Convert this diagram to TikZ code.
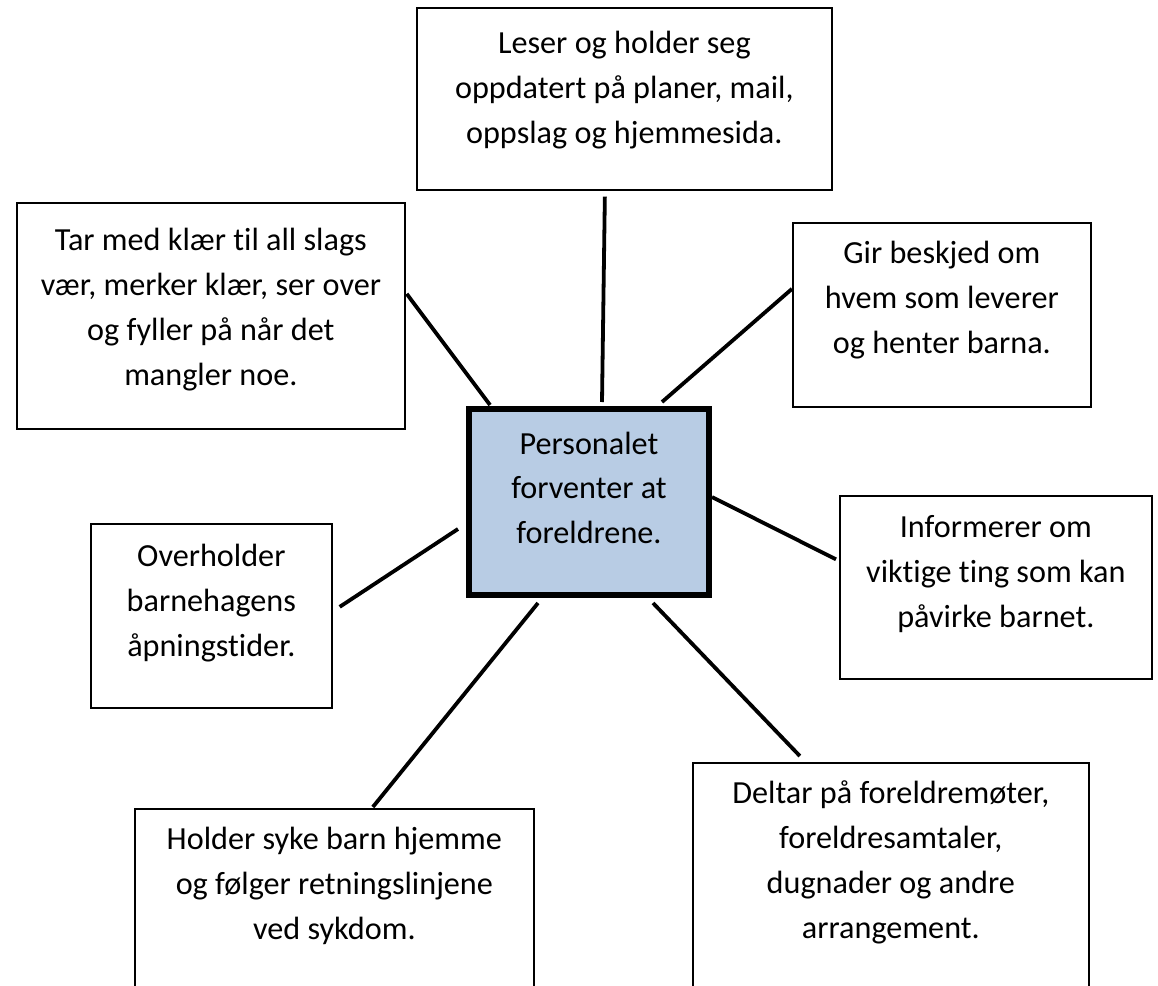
\documentclass[tikz,border=0pt]{standalone}
\usepackage{fontspec}
\setmainfont{Carlito}[Ligatures=NoCommon]
\usepackage{tikz}
\tikzset{>=latex}
\definecolor{centrefill}{HTML}{B8CCE4}
\tikzset{
    note/.style={draw=black, line width=1.7pt, anchor=north west, inner sep=0pt, align=flush center, font=\fontsize{32.2}{44.8}\selectfont},
    link/.style={line width=3.8pt},
}

\begin{document}
\begin{tikzpicture}[x=1pt, y=-1pt]
            \useasboundingbox (0, 0) rectangle (1158, 985);
            \clip (0, 0) rectangle (1158, 985);
            \node[note, line width=6pt, fill=centrefill, text width=240pt, text height=45pt, text depth=141pt] (centre) at (466, 406) {Personalet\\ forventer at\\ foreldrene.};
            \node[note, text width=415pt, text height=46pt, text depth=136pt] (plan) at (416, 7) {Leser og holder seg\\ oppdatert på planer, mail,\\ oppslag og hjemmesida.};
            \node[note, text width=388pt, text height=48pt, text depth=178pt] (klaer) at (16, 202) {Tar med klær til all slags\\ vær, merker klær, ser over\\ og fyller på når det\\ mangler noe.};
            \node[note, text width=298pt, text height=41pt, text depth=143pt] (beskjed) at (792, 222) {Gir beskjed om\\ hvem som leverer\\ og henter barna.};
            \node[note, text width=241pt, text height=43pt, text depth=141pt] (tider) at (90, 523) {Overholder\\ barnehagens\\ åpningstider.};
            \node[note, text width=312pt, text height=42pt, text depth=141pt] (info) at (839, 495) {Informerer om\\ viktige ting som kan\\ påvirke barnet.};
            \node[note, text width=399pt, text height=41pt, text depth=170pt] (syk) at (134, 808) {Holder syke barn hjemme\\ og følger retningslinjene\\ ved sykdom.};
            \node[note, text width=396pt, text height=41pt, text depth=200pt] (mote) at (692, 762) {Deltar på foreldremøter,\\ foreldresamtaler,\\ dugnader og andre\\ arrangement.};
            % lines out from the middle box
            \draw[link] ([xshift=-19.5pt, yshift=-6pt]plan.south) -- ([xshift=13pt, yshift=4pt]centre.north);
            \draw[link] ([xshift=1pt, yshift=22pt]klaer.east) -- ([xshift=24pt, yshift=1pt]centre.north west);
            \draw[link] ([yshift=26pt]beskjed.west) -- ([xshift=73pt, yshift=4pt]centre.north);
            \draw[link] ([yshift=5pt]centre.east) -- ([xshift=-3pt, yshift=28pt]info.west);
            \draw[link] ([xshift=7pt, yshift=9pt]tider.east) -- ([xshift=-8pt, yshift=-27pt]centre.west);
            \draw[link] ([xshift=-51pt, yshift=-5pt]centre.south) -- ([xshift=38.5pt, yshift=1pt]syk.north);
            \draw[link] ([xshift=64pt, yshift=-5pt]centre.south) -- ([xshift=-91pt, yshift=6pt]mote.north);
        \end{tikzpicture}
\end{document}
